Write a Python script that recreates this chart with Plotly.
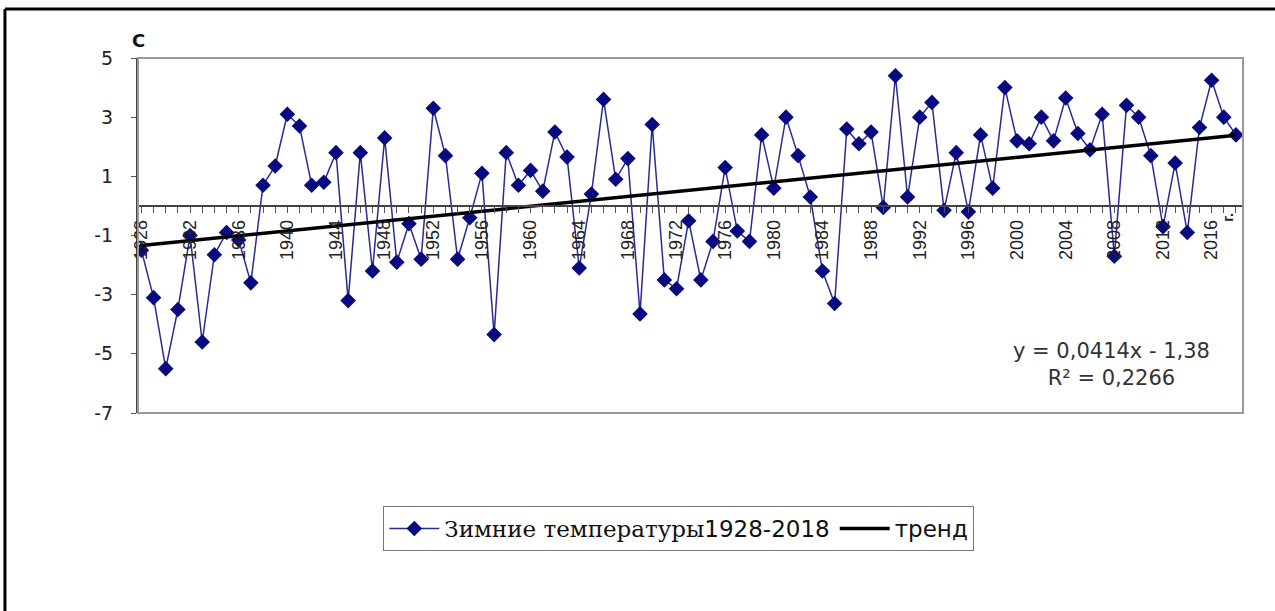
import plotly.graph_objects as go

# winter temperatures, 1928-2018
years = list(range(1928, 2019))
temps = [
    -1.5, -3.1, -5.5, -3.5, -1.0, -4.6, -1.65, -0.9, -1.15, -2.6,
    0.7, 1.35, 3.1, 2.7, 0.7, 0.8, 1.8, -3.2, 1.8, -2.2,
    2.3, -1.9, -0.6, -1.8, 3.3, 1.7, -1.8, -0.4, 1.1, -4.35,
    1.8, 0.7, 1.2, 0.5, 2.5, 1.65, -2.1, 0.4, 3.6, 0.9,
    1.6, -3.65, 2.75, -2.5, -2.8, -0.5, -2.5, -1.2, 1.3, -0.85,
    -1.2, 2.4, 0.6, 3.0, 1.7, 0.3, -2.2, -3.3, 2.6, 2.1,
    2.5, -0.05, 4.4, 0.3, 3.0, 3.5, -0.15, 1.8, -0.2, 2.4,
    0.6, 4.0, 2.2, 2.1, 3.0, 2.2, 3.65, 2.45, 1.9, 3.1,
    -1.7, 3.4, 3.0, 1.7, -0.7, 1.45, -0.9, 2.65, 4.25, 3.0,
    2.4,
]
# trend equation printed on the chart (x = 1, 2, ... for each year)
slope = 0.0414
intercept = -1.38
trend = [slope * (i + 1) + intercept for i in range(len(years))]

series_name = ('<span style="font-family:DejaVu Serif">Зимние температуры</span>'
               '<span style="font-family:DejaVu Sans">1928-2018</span>')
trend_name = 'тренд'
y_ticks = [-7, -5, -3, -1, 1, 3, 5]
y_tick_text = ['-7', '-5', '-3', '-1', '1', '3', '5']

navy = '#0a0a80'
fig = go.Figure()
fig.add_trace(go.Scatter(
    x=years, y=temps, name=series_name, mode='lines+markers',
    line=dict(color='#2a2a96', width=1.5),
    marker=dict(symbol='diamond', size=12, color=navy)))
fig.add_trace(go.Scatter(
    x=years, y=trend, name=trend_name, mode='lines',
    line=dict(color='black', width=3.5)))

fig.update_layout(
    width=1275, height=611,
    margin=dict(l=138, r=32, t=58, b=198),
    paper_bgcolor='white', plot_bgcolor='white',
    font=dict(family='Liberation Sans, Arial', size=18, color='#111'),
    showlegend=True,
    legend=dict(orientation='h', x=0.222, y=-0.262, xanchor='left', yanchor='top',
                bordercolor='#777', borderwidth=1, bgcolor='white',
                font=dict(family='DejaVu Sans', size=23, color='#111'), itemwidth=50),
    xaxis=dict(range=[1927.72, 2018.58], anchor='free', position=0.583,
               tickmode='linear', tick0=1928, dtick=4, tickangle=-90,
               ticks='outside', ticklen=6, tickcolor='#555',
               minor=dict(tick0=1928, dtick=1, ticks='outside', ticklen=6, tickcolor='#555'),
               showline=True, linecolor='#444', linewidth=1.5,
               showgrid=False, zeroline=False,
               tickfont=dict(size=18, color='#222')),
    yaxis=dict(range=[-7, 5], tickvals=y_ticks, ticktext=y_tick_text,
               ticks='outside', ticklen=5, ticklabelstandoff=14,
               tickcolor='#555', showline=True, linecolor='#444', linewidth=2,
               showgrid=False, zeroline=False,
               tickfont=dict(family='DejaVu Sans', size=19, color='#222')),
    shapes=[
        # plot area frame
        dict(type='rect', xref='paper', yref='paper', x0=0, y0=0, x1=1, y1=1,
             line=dict(color='#999', width=2)),
        # page frame
        dict(type='line', xref='paper', yref='paper', x0=-0.1204, y0=1.138, x1=1.05, y1=1.138,
             line=dict(color='black', width=3)),
        dict(type='line', xref='paper', yref='paper', x0=-0.1204, y0=1.138, x1=-0.1204, y1=-0.6,
             line=dict(color='black', width=3)),
    ],
    annotations=[
        dict(text='<b>С</b>', xref='paper', yref='paper', x=0.0, y=1.05,
             xanchor='center', yanchor='middle',
             showarrow=False, font=dict(family='DejaVu Sans', size=18, color='#111')),
        dict(text='y = 0,0414x - 1,38<br>R² = 0,2266', xref='paper', yref='paper',
             x=0.881, y=0.138, xanchor='center', yanchor='middle',
             showarrow=False, align='center',
             font=dict(family='DejaVu Sans', size=21, color='#333')),
        dict(text='<b>г.</b>', xref='paper', yref='paper', x=0.996, y=0.55,
             textangle=-90, showarrow=False, font=dict(size=15, color='#222')),
    ],
)

fig.write_html('out.html', config={'displayModeBar': False},
               post_script="document.body.style.margin='0';")
